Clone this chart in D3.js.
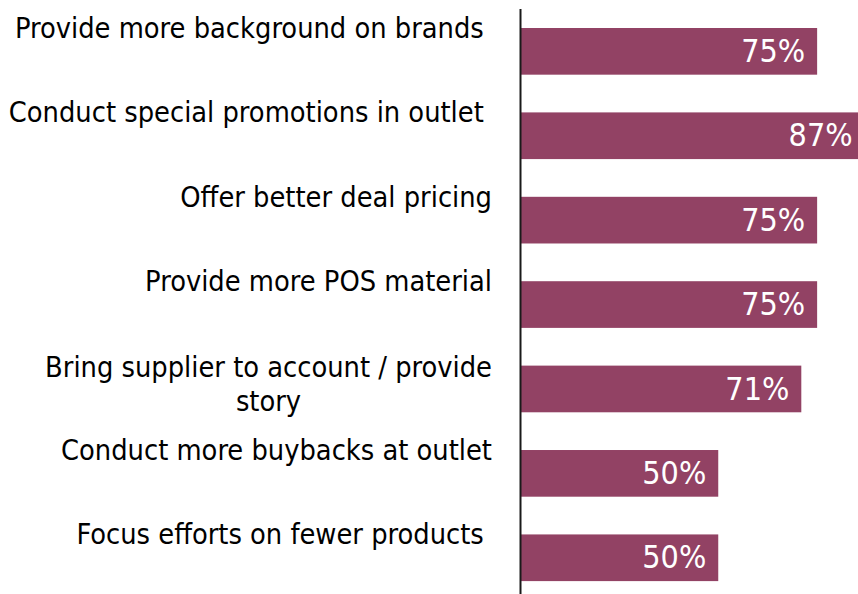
<!DOCTYPE html>
<html><head><meta charset="utf-8"><script src="https://cdn.jsdelivr.net/npm/d3@7"></script>
<style>body{margin:0;background:#fff}svg{display:block}text{white-space:pre}</style></head>
<body>
<svg id="chart" width="858" height="594"></svg>
<script>
const categories = [
  "Provide more background on brands ",
  "Conduct special promotions in outlet ",
  "Offer better deal pricing",
  "Provide more POS material",
  "Bring supplier to account / provide story",
  "Conduct more buybacks at outlet",
  "Focus efforts on fewer products "
];
const values = [0.75, 0.87, 0.75, 0.75, 0.71, 0.50, 0.50];
const valueLabels = ["75%", "87%", "75%", "75%", "71%", "50%", "50%"];

const W = 858, H = 594;
const barColor = "#924264";
const fontFam = "'DejaVu Sans Condensed','DejaVu Sans',sans-serif";

const svg = d3.select("#chart");

const x = d3.scaleLinear().domain([0, 1]).range([520.5, 916]);
const y = d3.scaleBand().domain(categories).range([28, 581.1]).paddingInner(0.447).paddingOuter(0);

const data = categories.map((c, i) => ({c, v: values[i], l: valueLabels[i]}));

// bars
svg.append("g").selectAll("rect").data(data).join("rect")
  .attr("x", x(0))
  .attr("y", d => y(d.c))
  .attr("width", d => x(d.v) - x(0))
  .attr("height", y.bandwidth())
  .attr("fill", barColor);

// value labels
svg.append("g").selectAll("text").data(data).join("text")
  .attr("x", d => x(d.v) - 12)
  .attr("y", d => y(d.c) + 34)
  .attr("text-anchor", "end")
  .attr("fill", "#ffffff")
  .style("font-family", fontFam)
  .style("font-size", "32px")
  .text(d => d.l);

// category labels
const labelRight = 492;
const maxW = 490;
const lg = svg.append("g");
data.forEach(d => {
  const t = lg.append("text")
    .attr("x", labelRight)
    .attr("y", y(d.c) + 10)
    .attr("text-anchor", "end")
    .attr("fill", "#000")
    .style("font-family", fontFam)
    .style("font-size", "28.7px")
    .text(d.c);
  if (t.node().getComputedTextLength() > maxW) {
    const words = d.c.trim().split(/\s+/);
    t.text(null);
    let lines = [], cur = [];
    const probe = lg.append("text").style("font-family", fontFam).style("font-size", "28.7px");
    words.forEach(w => {
      const test = cur.concat([w]).join(" ");
      probe.text(test);
      if (probe.node().getComputedTextLength() > maxW && cur.length) {
        lines.push(cur.join(" ")); cur = [w];
      } else cur.push(w);
    });
    lines.push(cur.join(" "));
    probe.text(lines[0]);
    const w0 = probe.node().getComputedTextLength();
    probe.remove();
    const cx = labelRight - w0 / 2;
    t.attr("text-anchor", "middle").attr("x", cx).attr("y", y(d.c) + 11);
    lines.forEach((ln, i) => {
      t.append("tspan").attr("x", cx).attr("dy", i === 0 ? 0 : "1.2em").text(ln);
    });
  }
});

// axis line
svg.append("line")
  .attr("x1", x(0)).attr("x2", x(0))
  .attr("y1", 9).attr("y2", H)
  .attr("stroke", "#1a1a1a")
  .attr("stroke-width", 2);
</script>
</body></html>
